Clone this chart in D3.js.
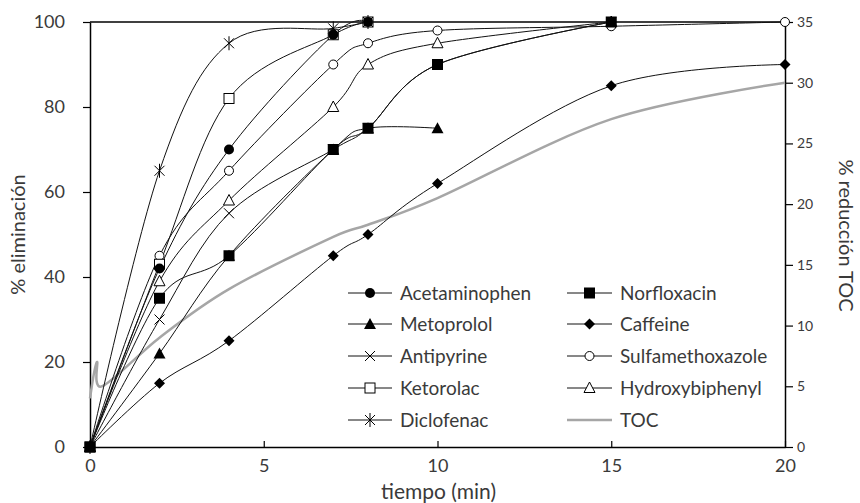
<!DOCTYPE html>
<html><head><meta charset="utf-8">
<script src="https://cdn.jsdelivr.net/npm/d3@7"></script>
<style>body{margin:0;background:#fff}svg{display:block}text{font-family:Lato,"Open Sans",sans-serif}</style>
</head><body>
<svg id="c" width="860" height="503"></svg>
<script>
// ---- data ----
const xTicks = [0, 5, 10, 15, 20];
const yLeftTicks = [0, 20, 40, 60, 80, 100];
const yRightTicks = [0, 5, 10, 15, 20, 25, 30, 35];
const acetaminophen = [[0,0],[2,42],[4,70],[7,97],[8,100]];
const norfloxacin = [[0,0],[2,35],[4,45],[7,70],[8,75],[10,90],[15,100]];
const metoprolol = [[0,0],[2,22],[4,45],[7,70],[8,75],[10,75]];
const caffeine = [[0,0],[2,15],[4,25],[7,45],[8,50],[10,62],[15,85],[20,90]];
const antipyrine = [[0,0],[2,30],[4,55],[7,70],[8,75],[10,90],[15,100]];
const sulfamethoxazole = [[0,0],[2,45],[4,65],[7,90],[8,95],[10,98],[15,99],[20,100]];
const ketorolac = [[0,0],[2,43],[4,82],[7,97],[8,100]];
const hydroxybiphenyl = [[0,0],[2,39],[4,58],[7,80],[8,90],[10,95],[15,100]];
const diclofenac = [[0,0],[2,65],[4,95],[7,98.5],[8,100]];
const toc = [[0,4],[0.2,7],[0.35,5],[2,9],[4,13],[7,17.3],[8,18.3],[10,20.5],[15,27],[20,30]];

const series = [
  {name:"Acetaminophen", data:acetaminophen, m:"circleF"},
  {name:"Norfloxacin", data:norfloxacin, m:"squareF"},
  {name:"Metoprolol", data:metoprolol, m:"triF"},
  {name:"Caffeine", data:caffeine, m:"diamondF"},
  {name:"Antipyrine", data:antipyrine, m:"times"},
  {name:"Sulfamethoxazole", data:sulfamethoxazole, m:"circleO"},
  {name:"Ketorolac", data:ketorolac, m:"squareO"},
  {name:"Hydroxybiphenyl", data:hydroxybiphenyl, m:"triO"},
  {name:"Diclofenac", data:diclofenac, m:"asterisk"}
];

const svg = d3.select("#c");
const L=90, R=785, T=22, B=447;
const x = d3.scaleLinear().domain([0,20]).range([L,R]);
const yL = d3.scaleLinear().domain([0,100]).range([B,T]);
const yR = d3.scaleLinear().domain([0,35]).range([B,T]);
const txtCol = "#3a3a3a";

// axes
const gx = svg.append("g").attr("transform",`translate(0,${B})`)
  .call(d3.axisBottom(x).tickValues(xTicks).tickSizeInner(-6).tickSizeOuter(0).tickPadding(12));
const gl = svg.append("g").attr("transform",`translate(${L},0)`)
  .call(d3.axisLeft(yL).tickValues(yLeftTicks).tickSizeInner(7).tickSizeOuter(0).tickPadding(18));
const gr = svg.append("g").attr("transform",`translate(${R},0)`)
  .call(d3.axisRight(yR).tickValues(yRightTicks).tickSizeInner(8).tickSizeOuter(0).tickPadding(4));
[gx,gl,gr].forEach(g=>{
  g.selectAll("path.domain").attr("stroke","#000").attr("stroke-width",1.5);
  g.selectAll(".tick line").attr("stroke","#000").attr("stroke-width",1.2);
  g.selectAll(".tick text").attr("fill",txtCol).style("font-size","18px").style("font-family","Lato");
});
gr.selectAll(".tick text").style("font-size","14px");
// top border
svg.append("line").attr("x1",L).attr("x2",R).attr("y1",T).attr("y2",T).attr("stroke","#000").attr("stroke-width",1.5);

// titles
svg.append("text").attr("x",(L+R)/2+1).attr("y",499).attr("text-anchor","middle").attr("fill",txtCol).style("font-size","21px").text("tiempo (min)");
svg.append("text").attr("transform",`translate(25,${(T+B)/2}) rotate(-90)`).attr("text-anchor","middle").attr("fill",txtCol).style("font-size","20px").text("% eliminación");
svg.append("text").attr("transform",`translate(839,${(T+B)/2+1}) rotate(90)`).attr("text-anchor","middle").attr("fill",txtCol).style("font-size","20px").text("% reducción TOC");

const line = d3.line().curve(d3.curveCardinal.tension(0));
const plot = svg.append("g");

// TOC
plot.append("path").attr("d", d3.line().curve(d3.curveCardinal.tension(0)).x(d=>x(d[0])).y(d=>yR(d[1]))(toc))
  .attr("fill","none").attr("stroke","#a6a6a6").attr("stroke-width",2.5);

series.forEach(s=>{
  plot.append("path").attr("d", line.x(d=>x(d[0])).y(d=>yL(d[1]))(s.data))
    .attr("fill","none").attr("stroke","#111").attr("stroke-width",1);
});

function marker(g, type, cx, cy){
  const k = g.append("g").attr("transform",`translate(${cx},${cy})`);
  switch(type){
    case "circleF": k.append("circle").attr("r",5).attr("fill","#000"); break;
    case "circleO": k.append("circle").attr("r",4.5).attr("fill","#fff").attr("stroke","#000").attr("stroke-width",1); break;
    case "squareF": k.append("rect").attr("x",-5.5).attr("y",-5.5).attr("width",11).attr("height",11).attr("fill","#000"); break;
    case "squareO": k.append("rect").attr("x",-5).attr("y",-5).attr("width",10).attr("height",10).attr("fill","#fff").attr("stroke","#000").attr("stroke-width",1); break;
    case "triF": k.append("path").attr("d","M0,-6L6,5L-6,5Z").attr("fill","#000"); break;
    case "triO": k.append("path").attr("d","M0,-6L5.5,4.5L-5.5,4.5Z").attr("fill","#fff").attr("stroke","#000").attr("stroke-width",1); break;
    case "diamondF": k.append("path").attr("d","M0,-5.5L5.5,0L0,5.5L-5.5,0Z").attr("fill","#000"); break;
    case "times": k.append("path").attr("d","M-5,-5L5,5M-5,5L5,-5").attr("stroke","#000").attr("stroke-width",1); break;
    case "asterisk": k.append("path").attr("d","M-5,-5L5,5M-5,5L5,-5M0,-7L0,7").attr("stroke","#000").attr("stroke-width",1); break;
  }
}
// markers: draw in an order so that norfloxacin sits on top of metoprolol
const order = [2,3,4,5,7,6,0,8,1];
order.forEach(i=>{
  const s = series[i];
  s.data.forEach(d=>marker(plot, s.m, x(d[0]), yL(d[1])));
});

// legend
const leg = svg.append("g");
const cols = [{lx:348, tx:400}, {lx:567, tx:620}];
const rowsY = [293, 324, 356, 388, 420];
const legItems = [
  series[0], series[1], series[2], series[3], series[4], series[5], series[6], series[7], series[8], {name:"TOC", m:"toc"}
];
legItems.forEach((s,i)=>{
  const c = cols[i%2], yy = rowsY[Math.floor(i/2)];
  const lw = c.tx - c.lx - 8;
  if(s.m==="toc"){
    leg.append("line").attr("x1",c.lx).attr("x2",c.lx+lw).attr("y1",yy).attr("y2",yy).attr("stroke","#a6a6a6").attr("stroke-width",2.5);
  } else {
    leg.append("line").attr("x1",c.lx).attr("x2",c.lx+lw).attr("y1",yy).attr("y2",yy).attr("stroke","#111").attr("stroke-width",1);
    marker(leg, s.m, c.lx+lw/2, yy);
  }
  leg.append("text").attr("x",c.tx).attr("y",yy).attr("dy","0.35em").attr("fill",txtCol).style("font-size","19px").text(s.name);
});
</script>
</body></html>
